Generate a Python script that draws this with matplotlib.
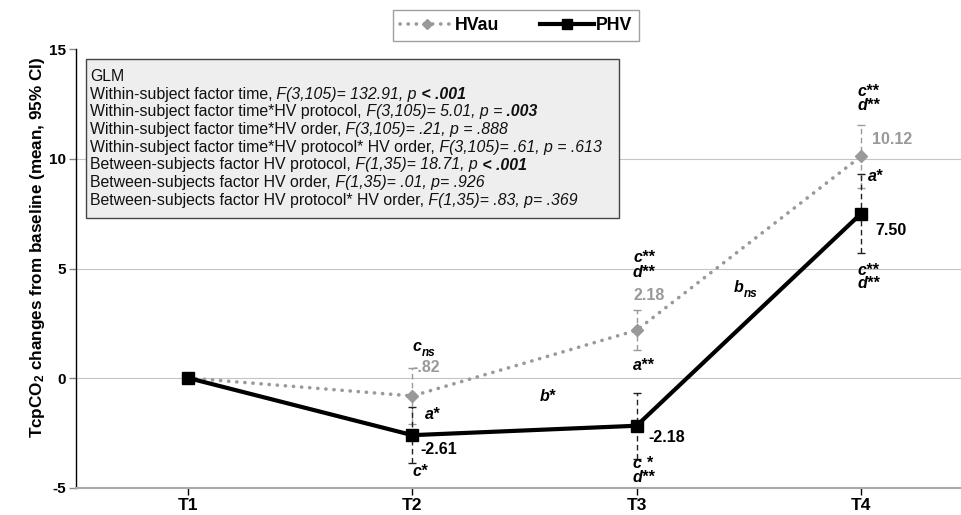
import matplotlib
matplotlib.use("Agg")
import matplotlib.pyplot as plt
from matplotlib.patches import Rectangle
import numpy as np

plt.rcParams["font.family"] = ["Liberation Sans", "DejaVu Sans"]
plt.rcParams["mathtext.fontset"] = "custom"
plt.rcParams["mathtext.rm"] = "Liberation Sans:bold"
plt.rcParams["mathtext.bf"] = "Liberation Sans:bold"
plt.rcParams["mathtext.default"] = "bf"

# data
times = ["T1", "T2", "T3", "T4"]
hvau_mean = [0.0, -0.82, 2.18, 10.12]
hvau_ci = [0.0, 1.28, 0.92, 1.44]
phv_mean = [0.0, -2.61, -2.18, 7.50]
phv_ci = [0.0, 1.28, 1.50, 1.81]
y_ticks = [-5, 0, 5, 10, 15]

glm_lines = [
    [("GLM", "normal", "normal")],
    [("Within-subject factor time,", "normal", "normal"),
     (" F(3,105)= 132.91, p", "italic", "normal"),
     (" < .001", "italic", "bold")],
    [("Within-subject factor time*HV protocol,", "normal", "normal"),
     (" F(3,105)= 5.01, p =", "italic", "normal"),
     (" .003", "italic", "bold")],
    [("Within-subject factor time*HV order,", "normal", "normal"),
     (" F(3,105)= .21, p = .888", "italic", "normal")],
    [("Within-subject factor time*HV protocol* HV order,", "normal", "normal"),
     (" F(3,105)= .61, p = .613", "italic", "normal")],
    [("Between-subjects factor HV protocol,", "normal", "normal"),
     (" F(1,35)= 18.71, p", "italic", "normal"),
     (" < .001", "italic", "bold")],
    [("Between-subjects factor HV order,", "normal", "normal"),
     (" F(1,35)= .01, p= .926", "italic", "normal")],
    [("Between-subjects factor HV protocol* HV order,", "normal", "normal"),
     (" F(1,35)= .83, p= .369", "italic", "normal")],
]

W, H = 961, 515
GRAY = "#999999"

fig = plt.figure(figsize=(W / 100, H / 100), dpi=100)
ax = fig.add_axes([76 / W, 1 - 487.5 / H, 897 / W, 438 / H])

x = np.arange(1, len(times) + 1)

# HVau: dotted grey with diamonds
eb1 = ax.errorbar(x[1:], hvau_mean[1:], yerr=hvau_ci[1:], fmt="none",
                  ecolor=GRAY, elinewidth=1, capsize=3, capthick=1, zorder=2)
eb1[2][0].set_linestyle((0, (4, 2.5)))
(l1,) = ax.plot(x, hvau_mean, color=GRAY, lw=2.6, linestyle=(0, (0.05, 2.2)),
                dash_capstyle="round", marker="D", markersize=6.5,
                markeredgecolor=GRAY, markerfacecolor=GRAY, label="HVau", zorder=3)

# PHV: solid black with squares
eb2 = ax.errorbar(x[1:], phv_mean[1:], yerr=phv_ci[1:], fmt="none",
                  ecolor="#222222", elinewidth=1, capsize=3, capthick=1, zorder=4)
eb2[2][0].set_linestyle((0, (4, 2.5)))
(l2,) = ax.plot(x, phv_mean, color="black", lw=3, marker="s", markersize=9,
                label="PHV", zorder=5)

ax.set_xlim(0.5, 4.5)
ax.set_ylim(-5, 15)
ax.set_xticks(x)
ax.set_xticklabels(times, fontsize=12.5, fontweight="bold")
ax.set_yticks(y_ticks)
ax.set_yticklabels([str(v) for v in y_ticks], fontsize=11, fontweight="bold")
ax.tick_params(axis="x", length=5, width=1, color="black", pad=2.5)
ax.tick_params(axis="y", length=5, width=1, color="#888888", pad=2.5)

for v in y_ticks[1:4]:
    ax.axhline(v, color="#c4c4c4", lw=0.8, zorder=0)
ax.axhline(15, color="#a8a8a8", lw=1.2, zorder=0)

for s in ["top", "right"]:
    ax.spines[s].set_visible(False)
ax.spines["left"].set_color("black")
ax.spines["left"].set_linewidth(1)
ax.spines["bottom"].set_color("#a8a8a8")
ax.spines["bottom"].set_linewidth(1.5)

ax.set_ylabel(r"TcpCO$_2$ changes from baseline (mean, 95% CI)",
              fontsize=12.3, fontweight="bold")
ax.yaxis.set_label_coords(-0.032, 0.548)

# annotations
lab = dict(fontsize=11.5, fontweight="bold", style="italic", ha="left",
           va="center", zorder=6)
sub = dict(fontsize=8.5, fontweight="bold", style="italic", ha="left",
           va="center", zorder=6)
val = dict(fontsize=11.5, fontweight="bold", ha="left", va="center", zorder=6)

# T2
ax.text(1.999, 1.42, "c", **lab)
ax.text(2.040, 1.15, "ns", **sub)
ax.text(1.999, 0.46, "-.82", color=GRAY, **val)
ax.text(2.056, -1.65, "a*", **lab)
ax.text(2.034, -3.26, "-2.61", **val)
ax.text(1.999, -4.27, "c*", **lab)
ax.text(2.567, -0.83, "b*", **lab)
# T3
ax.text(2.984, 5.50, "c**", **lab)
ax.text(2.984, 4.82, "d**", **lab)
ax.text(2.988, 3.76, "2.18", color=GRAY, **val)
ax.text(2.984, 0.55, "a**", **lab)
ax.text(3.051, -2.71, "-2.18", **val)
ax.text(2.984, -3.90, "c *", **lab)
ax.text(2.984, -4.54, "d**", **lab)
ax.text(3.432, 4.13, "b", **lab)
ax.text(3.478, 3.85, "ns", **sub)
# T4
ax.text(3.983, 13.07, "c**", **lab)
ax.text(3.983, 12.43, "d**", **lab)
ax.text(4.049, 10.87, "10.12", color=GRAY, **val)
ax.text(4.031, 9.22, "a*", **lab)
ax.text(4.063, 6.74, "7.50", **val)
ax.text(3.987, 4.91, "c**", **lab)
ax.text(3.987, 4.30, "d**", **lab)

# GLM box
fig.add_artist(Rectangle((86 / W, 1 - 218 / H), (619 - 86) / W, (218 - 59) / H,
                         transform=fig.transFigure, facecolor="#eeeeee",
                         edgecolor="#444444", lw=1, zorder=1))

renderer = fig.canvas.get_renderer()
for i, segs in enumerate(glm_lines):
    px = 90
    py = 81 + i * 17.7
    for s, st, wt in segs:
        t = fig.text(px / W, 1 - py / H, s, fontsize=11.4, style=st, fontweight=wt,
                     va="baseline", ha="left", color="#111111", zorder=3)
        px += t.get_window_extent(renderer).width

# legend
leg = fig.legend(handles=[l1, l2], loc="center", bbox_to_anchor=(516 / W, 1 - 25.5 / H),
                 ncol=2, prop={"weight": "bold", "size": 12.8},
                 frameon=True, fancybox=False, edgecolor="#888888",
                 handlelength=3.0, handletextpad=0.1, columnspacing=2.3,
                 borderpad=0.4, markerscale=0.8)
leg.get_frame().set_linewidth(1)

fig.savefig("out.png", dpi=100)
